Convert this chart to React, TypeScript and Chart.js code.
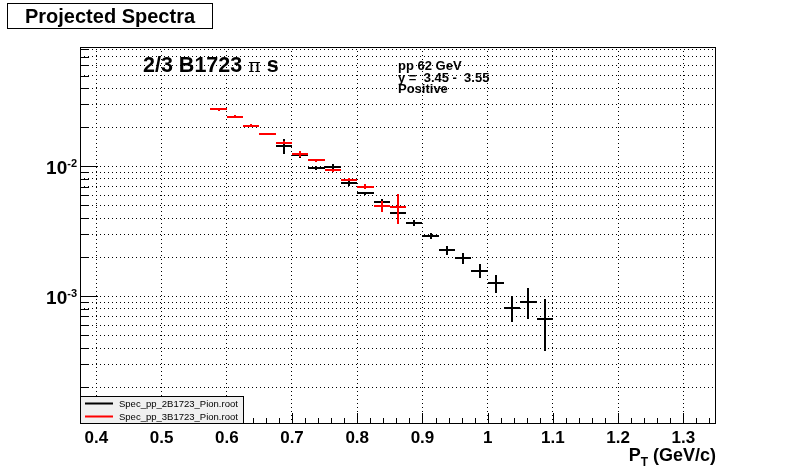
import React, { useEffect, useRef } from 'react';
import { Chart, registerables } from 'chart.js';

Chart.register(...registerables);

// ---- data ----
const BIN_HALF_WIDTH = 0.0125;

const blackX = [0.6875, 0.7125, 0.7375, 0.7625, 0.7875, 0.8125, 0.8375, 0.8625, 0.8875, 0.9125, 0.9375, 0.9625, 0.9875, 1.0125, 1.0375, 1.0625, 1.0875];
const blackY = [0.0144, 0.0123, 0.0097, 0.0099, 0.00745, 0.0062, 0.00528, 0.00438, 0.00367, 0.0029, 0.00226, 0.00196, 0.00158, 0.00126, 0.00082, 0.00091, 0.00067];
const blackErr = [0.0019, 0.0007, 0.0004, 0.0005, 0.0004, 0.0002, 0.0003, 0.0004, 0.0002, 0.00015, 0.00017, 0.00018, 0.0002, 0.0002, 0.00018, 0.00024, 0.00029];

const redX = [0.5875, 0.6125, 0.6375, 0.6625, 0.6875, 0.7125, 0.7375, 0.7625, 0.7875, 0.8125, 0.8375, 0.8625];
const redY = [0.0274, 0.0241, 0.0206, 0.0179, 0.0152, 0.0125, 0.0111, 0.0093, 0.0079, 0.0070, 0.00495, 0.00488];
const redErr = [0.0008, 0.0006, 0.0005, 0.0002, 0.00045, 0.0006, 0.0002, 0.0003, 0.00024, 0.00035, 0.0005, 0.0013];

const seriesNames = ['Spec_pp_2B1723_Pion.root', 'Spec_pp_3B1723_Pion.root'];
const seriesColors = ['#000000', '#ff0000'];

const xTickValues = [0.4, 0.5, 0.6, 0.7, 0.8, 0.9, 1.0, 1.1, 1.2, 1.3];
const xTickLabels = ['0.4', '0.5', '0.6', '0.7', '0.8', '0.9', '1', '1.1', '1.2', '1.3'];
const yLabelValues = [1e-2, 1e-3];
const yLabelExponents = ['-2', '-3'];

const X_MIN = 0.375;
const X_MAX = 1.35;
const Y_MIN = 1.06e-4;
const Y_MAX = 0.0829;

const titleText = 'Projected Spectra';
const headerText = ['2/3 B1723 ', 'π', ' s'];
const infoLines = ['pp 62 GeV', 'y =  3.45 -  3.55', 'Positive'];
const xAxisTitle = ['P', 'T', ' (GeV/c)'];

const BOLD = 'bold';
const FAM = '"Liberation Sans", Arial, Helvetica, sans-serif';

function buildPoints(xs: number[], ys: number[], es: number[]) {
  return xs.map((x, i) => ({ x, y: ys[i], ex: BIN_HALF_WIDTH, ey: es[i] }));
}

function logTickValues(min: number, max: number) {
  const out: number[] = [];
  for (let n = -6; n <= 1; n++) {
    for (let m = 1; m <= 9; m++) {
      const v = m * Math.pow(10, n);
      if (v >= min && v <= max) out.push(v);
    }
  }
  return out;
}

const errorBarPlugin = {
  id: 'errorBars',
  afterDatasetsDraw(chart: any) {
    const { ctx, chartArea } = chart;
    const xs = chart.scales.x;
    const ys = chart.scales.y;
    ctx.save();
    ctx.beginPath();
    ctx.rect(chartArea.left, chartArea.top, chartArea.right - chartArea.left, chartArea.bottom - chartArea.top);
    ctx.clip();
    chart.data.datasets.forEach((ds: any) => {
      ctx.strokeStyle = ds.borderColor;
      ctx.lineWidth = 2;
      ds.data.forEach((p: any) => {
        const xc = Math.round(xs.getPixelForValue(p.x));
        const xl = Math.round(xs.getPixelForValue(p.x - p.ex));
        const xr = Math.round(xs.getPixelForValue(p.x + p.ex));
        const yc = Math.round(ys.getPixelForValue(p.y));
        const yt = Math.round(ys.getPixelForValue(p.y + p.ey));
        const yb = Math.round(ys.getPixelForValue(Math.max(p.y - p.ey, 1e-9)));
        ctx.beginPath();
        ctx.moveTo(xl, yc);
        ctx.lineTo(xr, yc);
        ctx.moveTo(xc, yt);
        ctx.lineTo(xc, yb);
        ctx.stroke();
      });
    });
    ctx.restore();
  },
};

const decorPlugin = {
  id: 'decor',
  afterDraw(chart: any) {
    const { ctx, chartArea } = chart;
    const xs = chart.scales.x;
    const ys = chart.scales.y;
    const L = chartArea.left, R = chartArea.right, T = chartArea.top, B = chartArea.bottom;
    ctx.save();
    ctx.strokeStyle = '#000';
    ctx.fillStyle = '#000';
    ctx.lineWidth = 1;

    // x ticks (inside)
    ctx.beginPath();
    for (let i = 0; i < xTickValues.length; i++) {
      const px = Math.round(xs.getPixelForValue(xTickValues[i])) + 0.5;
      ctx.moveTo(px, B);
      ctx.lineTo(px, B - 10);
    }
    const firstMajor = xTickValues[0] - 0.1;
    for (let k = 0; k <= 60; k++) {
      const v = firstMajor + k * 0.02;
      if (k % 5 === 0) continue;
      if (v < X_MIN || v > X_MAX) continue;
      const px = Math.round(xs.getPixelForValue(v)) + 0.5;
      ctx.moveTo(px, B);
      ctx.lineTo(px, B - 5);
    }
    // y ticks (inside)
    logTickValues(Y_MIN, Y_MAX).forEach((v) => {
      const py = Math.round(ys.getPixelForValue(v)) + 0.5;
      const major = Math.abs(Math.log10(v) - Math.round(Math.log10(v))) < 1e-9;
      ctx.moveTo(L, py);
      ctx.lineTo(L + (major ? 18 : 9), py);
    });
    ctx.stroke();

    // frame
    ctx.strokeRect(Math.round(L) + 0.5, Math.round(T) + 0.5, Math.round(R - L) - 1, Math.round(B - T));

    // y labels
    yLabelValues.forEach((v, i) => {
      const py = ys.getPixelForValue(v);
      ctx.font = `${BOLD} 11px ${FAM}`;
      const ew = ctx.measureText(yLabelExponents[i]).width;
      const right = L - 3;
      ctx.textAlign = 'left';
      ctx.textBaseline = 'alphabetic';
      ctx.fillText(yLabelExponents[i], right - ew, py + 1);
      ctx.font = `${BOLD} 19px ${FAM}`;
      ctx.textAlign = 'right';
      ctx.fillText('10', right - ew, py + 8);
    });

    // x axis title
    ctx.textAlign = 'left';
    ctx.textBaseline = 'alphabetic';
    ctx.font = `${BOLD} 18px ${FAM}`;
    const w3 = ctx.measureText(xAxisTitle[2]).width;
    const wP = ctx.measureText(xAxisTitle[0]).width;
    ctx.font = `${BOLD} 12px ${FAM}`;
    const wT = ctx.measureText(xAxisTitle[1]).width;
    const ax = R - w3 - wT - wP;
    ctx.font = `${BOLD} 18px ${FAM}`;
    ctx.fillText(xAxisTitle[0], ax, 461);
    ctx.font = `${BOLD} 12px ${FAM}`;
    ctx.fillText(xAxisTitle[1], ax + wP, 466);
    ctx.font = `${BOLD} 18px ${FAM}`;
    ctx.fillText(xAxisTitle[2], ax + wP + wT, 461);

    // header text in pad
    let hx = 143;
    ctx.font = `${BOLD} 21.5px ${FAM}`;
    ctx.fillText(headerText[0], hx, 72);
    hx += ctx.measureText(headerText[0]).width;
    ctx.font = `19px "DejaVu Serif", "Liberation Serif", serif`;
    ctx.fillText(headerText[1], hx, 72);
    hx += ctx.measureText(headerText[1]).width;
    ctx.font = `${BOLD} 21.5px ${FAM}`;
    ctx.fillText(headerText[2], hx, 72);

    // info lines
    ctx.font = `${BOLD} 13px ${FAM}`;
    const infoBase = [70, 82, 93];
    infoLines.forEach((t, i) => ctx.fillText(t, 398, infoBase[i]));

    // legend
    const lx0 = 80.5, ly0 = 396.5, lx1 = 243.5, ly1 = 423.5;
    ctx.fillStyle = '#f0f0f0';
    ctx.fillRect(lx0, ly0, lx1 - lx0, ly1 - ly0);
    ctx.strokeStyle = '#000';
    ctx.lineWidth = 1;
    ctx.strokeRect(lx0, ly0, lx1 - lx0, ly1 - ly0);
    const ly = [403.5, 416.5];
    seriesNames.forEach((name, i) => {
      ctx.strokeStyle = seriesColors[i];
      ctx.lineWidth = 2;
      ctx.beginPath();
      ctx.moveTo(85, ly[i]);
      ctx.lineTo(113, ly[i]);
      ctx.stroke();
      ctx.fillStyle = '#000';
      ctx.font = `9.5px ${FAM}`;
      ctx.textBaseline = 'middle';
      ctx.fillText(name, 119, ly[i] + 0.5);
    });

    // title box
    ctx.textBaseline = 'alphabetic';
    ctx.fillStyle = '#fff';
    ctx.fillRect(7.5, 3.5, 205, 25);
    ctx.strokeStyle = '#000';
    ctx.lineWidth = 1;
    ctx.strokeRect(7.5, 3.5, 205, 25);
    ctx.fillStyle = '#000';
    ctx.font = `${BOLD} 20px ${FAM}`;
    ctx.textAlign = 'center';
    ctx.fillText(titleText, 110, 23);

    ctx.restore();
  },
};

export default function App() {
  const ref = useRef<HTMLCanvasElement | null>(null);

  useEffect(() => {
    document.body.style.margin = '0';
    const canvas = ref.current;
    if (!canvas) return;
    const chart = new Chart(canvas, {
      type: 'scatter',
      data: {
        datasets: [
          {
            label: seriesNames[0],
            data: buildPoints(blackX, blackY, blackErr),
            borderColor: seriesColors[0],
            backgroundColor: seriesColors[0],
            pointRadius: 0,
            showLine: false,
          },
          {
            label: seriesNames[1],
            data: buildPoints(redX, redY, redErr),
            borderColor: seriesColors[1],
            backgroundColor: seriesColors[1],
            pointRadius: 0,
            showLine: false,
          },
        ],
      },
      options: {
        animation: false,
        responsive: false,
        maintainAspectRatio: false,
        devicePixelRatio: 1,
        layout: { padding: { left: 0, top: 47, right: 80, bottom: 0 } },
        plugins: { legend: { display: false }, title: { display: false }, tooltip: { enabled: false } },
        events: [],
        scales: {
          x: {
            type: 'linear',
            min: X_MIN,
            max: X_MAX,
            afterBuildTicks: (scale: any) => {
              scale.ticks = xTickValues.map((v) => ({ value: v }));
            },
            afterFit: (scale: any) => {
              scale.height = 49;
            },
            grid: { color: '#000', lineWidth: 1, drawTicks: false },
            border: { display: false, dash: [1, 3] },
            ticks: {
              color: '#000',
              padding: 5,
              maxRotation: 0,
              autoSkip: false,
              font: { family: FAM, size: 17, weight: 'bold' },
              callback: (v: any) => {
                const idx = xTickValues.findIndex((t) => Math.abs(t - Number(v)) < 1e-9);
                return idx >= 0 ? xTickLabels[idx] : '';
              },
            },
          },
          y: {
            type: 'logarithmic',
            min: Y_MIN,
            max: Y_MAX,
            afterBuildTicks: (scale: any) => {
              scale.ticks = logTickValues(Y_MIN, Y_MAX).map((v) => ({ value: v }));
            },
            afterFit: (scale: any) => {
              scale.width = 80;
            },
            grid: { color: '#000', lineWidth: 1, drawTicks: false },
            border: { display: false, dash: [1, 3] },
            ticks: { display: false },
          },
        },
      },
      plugins: [errorBarPlugin, decorPlugin],
    } as any);
    return () => chart.destroy();
  }, []);

  return <canvas ref={ref} width={796} height={472} style={{ display: 'block', width: 796, height: 472 }} />;
}
